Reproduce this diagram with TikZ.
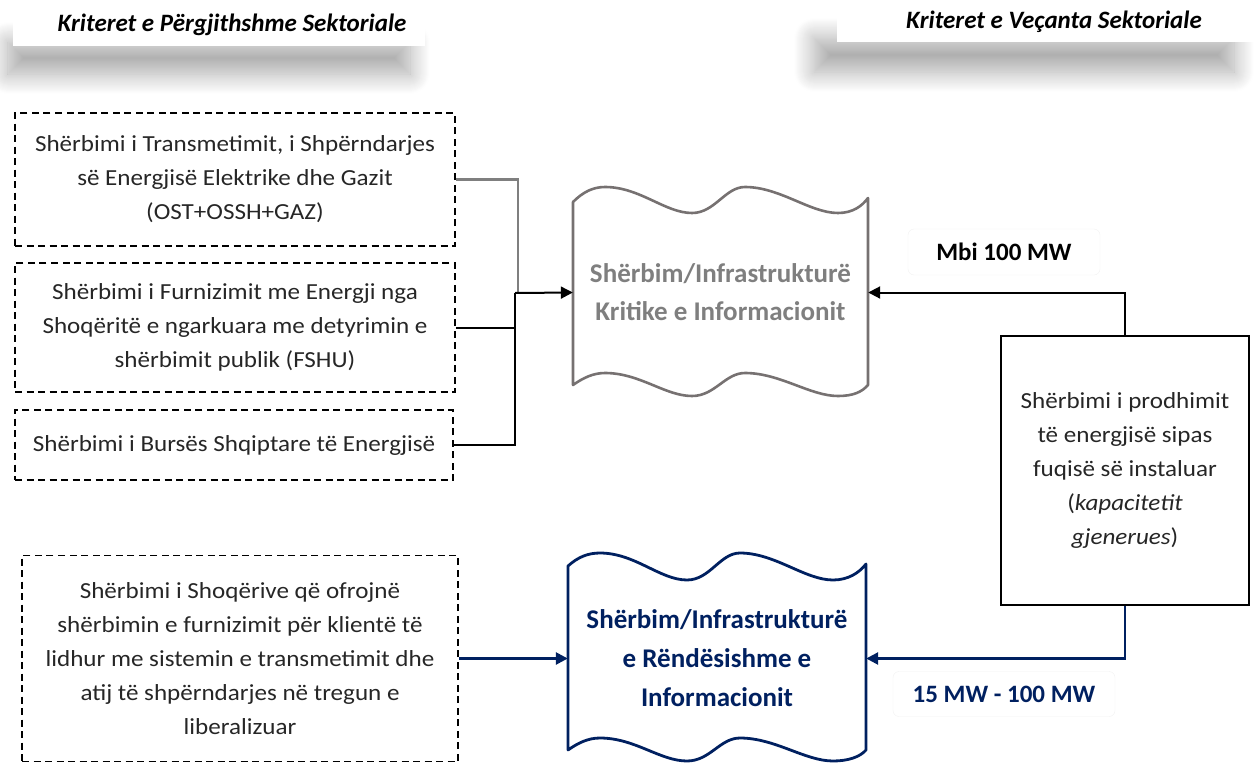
\documentclass[tikz,border=0pt]{standalone}
\usepackage{fontspec}
\setmainfont{Carlito}
\newfontfamily\wide[FakeStretch=1.09]{Carlito}
\usetikzlibrary{arrows.meta,shadows.blur}
\definecolor{navy}{HTML}{002060}
\definecolor{wgray}{HTML}{767171}
\definecolor{tgray}{HTML}{7F7F7F}
\begin{document}
\begin{tikzpicture}[x=1pt,y=-1pt,
  dbox/.style={draw=black, line width=1.8pt, dash pattern=on 7pt off 4.5pt, align=center, inner sep=0pt,
    font=\wide\fontsize{23}{34}\selectfont, text=black!85},
  sbox/.style={draw=black, line width=2pt, align=center, inner sep=0pt, font=\wide\fontsize{23}{34}\selectfont, text=black!85},
  ghost/.style={inner sep=0pt, align=center},
  hdr/.style={font=\fontsize{25}{30}\selectfont\bfseries\itshape, text=black},
  lbl/.style={draw=black!5, rounded corners=6pt, fill=white, inner sep=0pt, font=\fontsize{25}{30}\selectfont\bfseries},
  blk/.style={draw=black, line width=2pt},
  gcon/.style={draw=tgray, line width=2.4pt},
  ncon/.style={draw=navy, line width=2.6pt},
  tip/.style={-{Triangle[length=12pt,width=12pt]}},
  hshadow/.style={blur shadow={shadow xshift=0pt, shadow yshift=0pt, shadow blur radius=20pt, shadow blur steps=20, shadow opacity=34}}
]
\useasboundingbox (0,0) rectangle (1254,763);
% header shadows
\path[hshadow] (8,42) rectangle (410,74);
\path[hshadow] (814,38) rectangle (1234,72);
\fill[white] (13,8) rectangle (425,46);
\fill[white] (837,4) rectangle (1254,42);
\node[hdr] (h1) at (232,25) {Kriteret e Përgjithshme Sektoriale};
\node[hdr] (h2) at (1054,22) {Kriteret e Veçanta Sektoriale};
% dashed boxes
\node[dbox, minimum width=440pt, minimum height=133pt] (b1) at (235,179.5)
  {Shërbimi i Transmetimit, i Shpërndarjes\\së Energjisë Elektrike dhe Gazit\\(OST+OSSH+GAZ)};
\node[dbox, minimum width=440pt, minimum height=129pt] (b2) at (235,327.5)
  {Shërbimi i Furnizimit me Energji nga\\Shoqëritë e ngarkuara me detyrimin e\\shërbimit publik (FSHU)};
\node[dbox, minimum width=438pt, minimum height=70pt] (b3) at (234,445)
  {Shërbimi i Bursës Shqiptare të Energjisë};
\node[dbox, minimum width=436pt, minimum height=206pt] (b4) at (240,658.5)
  {Shërbimi i Shoqërive që ofrojnë\\shërbimin e furnizimit për klientë të\\lidhur me sistemin e transmetimit dhe\\atij të shpërndarjes në tregun e\\liberalizuar};
% right box
\node[sbox, minimum width=248pt, minimum height=269pt] (r) at (1125,470.5)
  {Shërbimi i prodhimit\\të energjisë sipas\\fuqisë së instaluar\\(\textit{kapacitetit}\\\textit{gjenerues})};
% wave box 1
\draw[wgray, line width=2.6pt, line join=round]
  (573,202) .. controls (583,192) and (593,187) .. (605,187)
  .. controls (640,187) and (665,213) .. (692,213)
  .. controls (715,213) and (725,187) .. (745,187)
  .. controls (780,187) and (810,213) .. (838,213)
  .. controls (853,213) and (862,206) .. (868,198)
  -- (868,385)
  .. controls (862,392) and (853,396) .. (838,396)
  .. controls (810,396) and (780,373) .. (745,373)
  .. controls (725,373) and (715,396) .. (692,396)
  .. controls (665,396) and (640,373) .. (605,373)
  .. controls (593,373) and (583,378) .. (573,385) -- cycle;
\node[ghost, minimum width=295pt, minimum height=185pt, text=tgray,
  font=\fontsize{27}{38}\selectfont\bfseries] (w1) at (720.5,292.5)
  {Shërbim/Infrastrukturë\\Kritike e Informacionit};
% wave box 2
\draw[navy, line width=2.8pt, line join=round]
  (568,566) .. controls (578,557) and (588,553) .. (600,553)
  .. controls (635,553) and (660,580) .. (687,580)
  .. controls (710,580) and (720,553) .. (740,553)
  .. controls (775,553) and (805,580) .. (833,580)
  .. controls (848,580) and (859,573) .. (866,564)
  -- (866,750)
  .. controls (860,757) and (848,761) .. (833,761)
  .. controls (805,761) and (775,738) .. (740,738)
  .. controls (720,738) and (710,761) .. (687,761)
  .. controls (660,761) and (635,738) .. (600,738)
  .. controls (588,738) and (578,743) .. (568,750) -- cycle;
\node[ghost, minimum width=298pt, minimum height=184pt, text=navy,
  font=\fontsize{27}{39}\selectfont\bfseries] (w2) at (717,658.5)
  {Shërbim/Infrastrukturë\\e Rëndësishme e\\Informacionit};
% labels
\node[lbl, minimum width=192pt, minimum height=46pt] (m1) at (1004,252) {Mbi 100 MW};
\node[lbl, minimum width=222pt, minimum height=45pt, text=navy] (m2) at (1004,694) {15 MW - 100 MW};
% connectors
\coordinate (jg) at (518,293);
\coordinate (jb) at (515,293);
\draw[gcon] (b1.east) -| (jg);
\draw[blk] (b3.east) -| (jb);
\draw[blk] (b2.east) -| (jb);
\draw[blk, tip] (jb) -- (w1.west);
\draw[blk, tip] (r.north) |- (w1.east);
\draw[ncon, tip] (r.south) |- (w2.east);
\draw[ncon, tip] (b4.east) -- (w2.west);
\end{tikzpicture}
\end{document}
